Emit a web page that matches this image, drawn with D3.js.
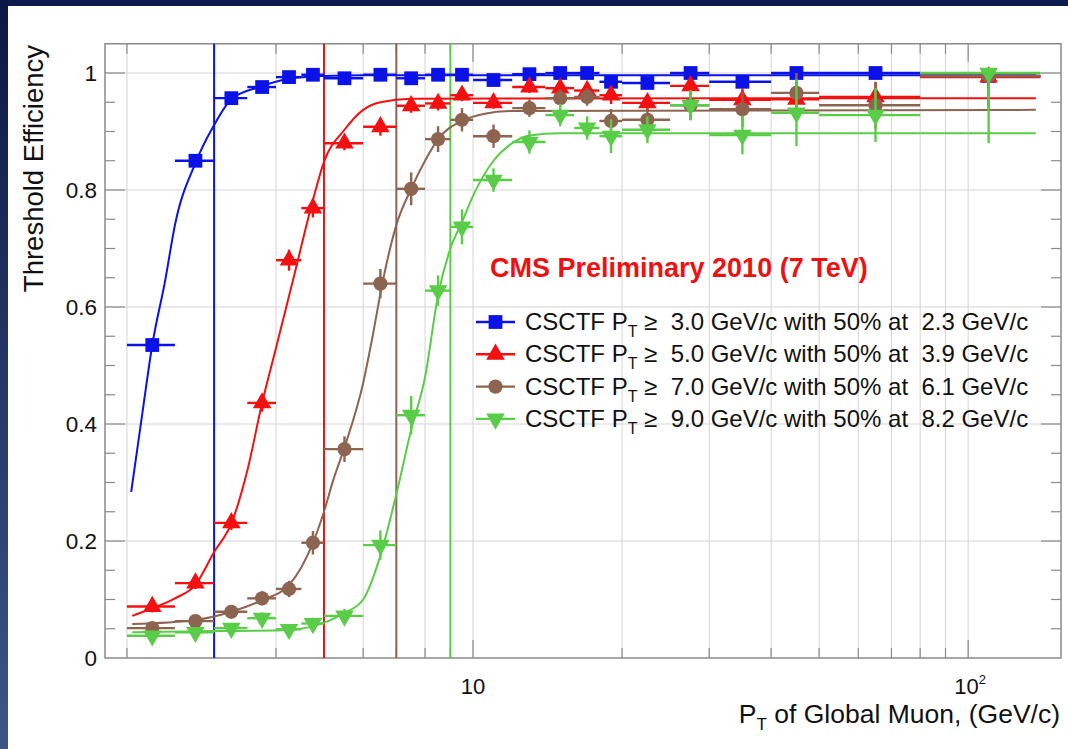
<!DOCTYPE html>
<html>
<head>
<meta charset="utf-8">
<script src="https://cdn.jsdelivr.net/npm/d3@7"></script>
<style>
  html, body { margin: 0; padding: 0; background: #0c1a4c; }
  svg { display: block; font-family: "Liberation Sans", Arial, sans-serif; }
  text { white-space: pre; }
</style>
</head>
<body>
<svg id="chart" width="1068" height="749"></svg>
<script>
// bin edges in pT (GeV/c), shared by all four turn-on curves
const ptEdges = [2, 2.5, 3, 3.5, 4, 4.5, 5, 6, 7, 8, 9, 10, 12, 14, 16, 18, 20, 25, 30, 40, 50, 80, 140]

// efficiency per bin
const effPt3 = [0.535, 0.850, 0.957, 0.976, 0.993, 0.997, 0.991, 0.997, 0.991, 0.997, 0.997, 0.988, 0.998, 1.0, 1.0, 0.985, 0.983, 1.0, 0.985, 1.0, 1.0, 0.995]
const errPt3 = [0.012, 0.01, 0.006, 0.005, 0.004, 0.003, 0.004, 0.003, 0.005, 0.004, 0.004, 0.005, 0.004, 0.004, 0.005, 0.007, 0.007, 0.006, 0.008, 0.01, 0.01, 0.02]
const effPt5 = [0.088, 0.128, 0.231, 0.436, 0.680, 0.769, 0.880, 0.908, 0.944, 0.948, 0.962, 0.949, 0.976, 0.974, 0.970, 0.962, 0.949, 0.978, 0.954, 0.955, 0.959, 0.993]
const errPt5 = [0.01, 0.01, 0.012, 0.015, 0.018, 0.016, 0.012, 0.015, 0.012, 0.012, 0.01, 0.01, 0.01, 0.012, 0.012, 0.015, 0.015, 0.015, 0.02, 0.03, 0.025, 0.05]
const effPt7 = [0.051, 0.063, 0.079, 0.102, 0.118, 0.197, 0.357, 0.640, 0.802, 0.887, 0.920, 0.892, 0.940, 0.957, 0.959, 0.918, 0.920, 0.945, 0.938, 0.966, 0.945, 0.995]
const errPt7 = [0.008, 0.008, 0.01, 0.012, 0.014, 0.02, 0.022, 0.025, 0.028, 0.022, 0.02, 0.02, 0.015, 0.015, 0.015, 0.02, 0.02, 0.025, 0.03, 0.04, 0.04, 0.06]
const effPt9 = [0.038, 0.044, 0.051, 0.068, 0.049, 0.059, 0.072, 0.193, 0.415, 0.628, 0.737, 0.817, 0.882, 0.928, 0.906, 0.892, 0.903, 0.945, 0.894, 0.932, 0.928, 1.0]
const errPt9 = [0.006, 0.006, 0.007, 0.01, 0.008, 0.01, 0.012, 0.025, 0.033, 0.026, 0.03, 0.02, 0.02, 0.019, 0.02, 0.029, 0.023, 0.026, 0.033, 0.057, 0.046, 0.12]

// fitted turn-on curves, sampled from the plot
const fitPt3 = [2.04, 2.15, 2.25, 2.39, 2.5, 2.75, 3.0, 3.25, 3.7, 4.3, 5.0, 6.0, 137]
const fitEff3 = [0.284, 0.42, 0.535, 0.646, 0.74, 0.846, 0.911, 0.955, 0.976, 0.991, 0.995, 0.996, 0.996]
const fitPt5 = [2.05, 2.25, 2.5, 2.75, 3.0, 3.25, 3.5, 3.75, 4.0, 4.33, 4.75, 5.0, 5.5, 6.0, 6.5, 7.5, 137]
const fitEff5 = [0.072, 0.085, 0.102, 0.125, 0.181, 0.23, 0.32, 0.436, 0.53, 0.646, 0.783, 0.848, 0.903, 0.937, 0.95, 0.956, 0.957]
const fitPt7 = [2.05, 2.75, 3.25, 3.75, 4.25, 4.75, 5.0, 5.22, 5.5, 6.0, 6.25, 6.58, 7.0, 7.5, 8.0, 8.5, 9.5, 10.5, 12, 137]
const fitEff7 = [0.058, 0.065, 0.079, 0.099, 0.125, 0.197, 0.25, 0.304, 0.36, 0.47, 0.544, 0.646, 0.74, 0.802, 0.85, 0.887, 0.918, 0.93, 0.935, 0.937]
const fitPt9 = [2.05, 3.0, 4.0, 4.5, 5.0, 5.5, 6.0, 6.5, 7.0, 7.5, 8.0, 8.5, 9.0, 9.5, 10, 11, 12, 13, 15, 137]
const fitEff9 = [0.044, 0.046, 0.047, 0.05, 0.06, 0.077, 0.1, 0.175, 0.28, 0.39, 0.48, 0.62, 0.70, 0.745, 0.79, 0.85, 0.88, 0.893, 0.897, 0.897]

const thresholds = [3, 5, 7, 9]
const legendThreshold = ["3.0", "5.0", "7.0", "9.0"]
const legendHalf = ["2.3", "3.9", "6.1", "8.2"]

const colors = ["#0a12e8", "#f41010", "#8c6450", "#5acd48"]
const symbols = ["square", "triangle", "circle", "triangleDown"]

const series = [
  { eff: effPt3, err: errPt3, fitX: fitPt3, fitY: fitEff3 },
  { eff: effPt5, err: errPt5, fitX: fitPt5, fitY: fitEff5 },
  { eff: effPt7, err: errPt7, fitX: fitPt7, fitY: fitEff7 },
  { eff: effPt9, err: errPt9, fitX: fitPt9, fitY: fitEff9 },
]

const svg = d3.select("#chart")
const W = 1068, H = 749

// slide background
const defs = svg.append("defs")
const grad = defs.append("linearGradient").attr("id", "side").attr("x1", 0).attr("y1", 0).attr("x2", 0).attr("y2", 1)
grad.append("stop").attr("offset", "0%").attr("stop-color", "#0b1744")
grad.append("stop").attr("offset", "100%").attr("stop-color", "#3d5686")
svg.append("rect").attr("width", W).attr("height", H).attr("fill", "#0c1a4c")
svg.append("rect").attr("width", 8).attr("height", H).attr("fill", "url(#side)")
svg.append("rect").attr("x", 8).attr("y", 6).attr("width", W - 8).attr("height", H - 6).attr("fill", "#fff")

const plotL = 105, plotR = 1061, plotT = 43.75, plotB = 658

const x = d3.scaleLog().domain([1.806, 154]).range([plotL, plotR])
const y = d3.scaleLinear().domain([0, 1.05]).range([plotB, plotT])

// grid
const xGrid = [2, 3, 4, 5, 6, 7, 8, 9, 10, 20, 30, 40, 50, 60, 70, 80, 90, 100]
const yGrid = [0.2, 0.4, 0.6, 0.8, 1.0]
const grid = svg.append("g").attr("stroke", "#d4d4d4").attr("stroke-width", 1)
grid.selectAll("line.gx").data(xGrid).join("line").attr("class", "gx")
  .attr("x1", d => x(d)).attr("x2", d => x(d)).attr("y1", plotT).attr("y2", plotB)
grid.selectAll("line.gy").data(yGrid).join("line").attr("class", "gy")
  .attr("x1", plotL).attr("x2", plotR).attr("y1", d => y(d)).attr("y2", d => y(d))

// ticks on all four sides
const ticks = svg.append("g").attr("stroke", "#8a8a8a").attr("stroke-width", 1.2)
const isMajorX = d => d === 10 || d === 100
xGrid.forEach(d => {
  const len = isMajorX(d) ? 18 : 10
  ticks.append("line").attr("x1", x(d)).attr("x2", x(d)).attr("y1", plotB).attr("y2", plotB - len)
  ticks.append("line").attr("x1", x(d)).attr("x2", x(d)).attr("y1", plotT).attr("y2", plotT + len)
})
d3.range(1, 21).map(i => i * 0.05).forEach(d => {
  const len = Math.abs(d * 5 - Math.round(d * 5)) < 1e-6 ? 20 : 10
  ticks.append("line").attr("x1", plotL).attr("x2", plotL + len).attr("y1", y(d)).attr("y2", y(d))
  ticks.append("line").attr("x1", plotR).attr("x2", plotR - len).attr("y1", y(d)).attr("y2", y(d))
})

// frame
svg.append("rect").attr("x", plotL).attr("y", plotT).attr("width", plotR - plotL).attr("height", plotB - plotT)
  .attr("fill", "none").attr("stroke", "#8a8a8a").attr("stroke-width", 1.5)

// tick labels
const yLabels = [0, 0.2, 0.4, 0.6, 0.8, 1]
svg.append("g").selectAll("text").data(yLabels).join("text")
  .attr("x", 97).attr("y", d => y(d) + 8).attr("text-anchor", "end")
  .attr("font-size", 22.5).attr("fill", "#111").text(d => d)

svg.append("text").attr("x", x(10)).attr("y", 694).attr("text-anchor", "middle")
  .attr("font-size", 22).attr("fill", "#111").text("10")
const t100 = svg.append("text").attr("x", x(100) - 14).attr("y", 694).attr("font-size", 22).attr("fill", "#111")
t100.append("tspan").text("10")
t100.append("tspan").attr("dy", -10).attr("font-size", 13).text("2")

// axis titles
svg.append("text").attr("transform", "translate(43,45) rotate(-90)").attr("text-anchor", "end")
  .attr("font-size", 27.5).attr("fill", "#111").text("Threshold Efficiency")
const xt = svg.append("text").attr("x", 1060).attr("y", 723).attr("text-anchor", "end")
  .attr("font-size", 26.5).attr("fill", "#111")
xt.append("tspan").text("P")
xt.append("tspan").attr("dy", 7).attr("font-size", 17).text("T")
xt.append("tspan").attr("dy", -7).text(" of Global Muon, (GeV/c)")

// threshold lines
svg.append("g").selectAll("line").data(thresholds).join("line")
  .attr("x1", d => x(d)).attr("x2", d => x(d)).attr("y1", plotT).attr("y2", plotB)
  .attr("stroke", (d, i) => colors[i]).attr("stroke-width", 2)

function markerPath(kind) {
  if (kind === "square") return d3.symbol(d3.symbolSquare, 190)()
  if (kind === "circle") return d3.symbol(d3.symbolCircle, 160)()
  return d3.symbol(d3.symbolTriangle, 150)()
}

// fits
const line = d3.line().x(d => x(d[0])).y(d => y(d[1])).curve(d3.curveMonotoneX)
series.forEach((s, i) => {
  svg.append("path").attr("d", line(d3.zip(s.fitX, s.fitY)))
    .attr("fill", "none").attr("stroke", colors[i]).attr("stroke-width", 2)
})

// data points with error bars
series.forEach((s, i) => {
  const g = svg.append("g").attr("stroke", colors[i]).attr("fill", colors[i])
  const pts = s.eff.map((e, k) => ({ lo: ptEdges[k], hi: ptEdges[k + 1], c: (ptEdges[k] + ptEdges[k + 1]) / 2, e, err: s.err[k] }))
  g.selectAll("line.h").data(pts).join("line").attr("class", "h")
    .attr("x1", d => x(d.lo)).attr("x2", d => x(d.hi)).attr("y1", d => y(d.e)).attr("y2", d => y(d.e))
    .attr("stroke-width", 2.4)
  g.selectAll("line.v").data(pts).join("line").attr("class", "v")
    .attr("x1", d => x(d.c)).attr("x2", d => x(d.c))
    .attr("y1", d => y(Math.max(0, d.e - d.err))).attr("y2", d => y(Math.min(1, d.e + d.err)))
    .attr("stroke-width", 2.4)
  g.selectAll("path").data(pts).join("path")
    .attr("d", markerPath(symbols[i]))
    .attr("stroke", "none")
    .attr("transform", d => `translate(${x(d.c)},${y(d.e)})` + (symbols[i] === "triangleDown" ? " rotate(180)" : ""))
})

// label and legend
svg.append("text").attr("x", 490).attr("y", 277).attr("font-size", 27).attr("font-weight", "bold")
  .attr("fill", "#ee1111").text("CMS Preliminary 2010 (7 TeV)")

const legend = svg.append("g")
legendThreshold.forEach((thr, i) => {
  const ly = 322 + i * 32.3
  legend.append("line").attr("x1", 476).attr("x2", 515).attr("y1", ly).attr("y2", ly)
    .attr("stroke", colors[i]).attr("stroke-width", 2.4)
  legend.append("path").attr("d", markerPath(symbols[i])).attr("fill", colors[i])
    .attr("transform", `translate(495.5,${ly})` + (symbols[i] === "triangleDown" ? " rotate(180)" : ""))
  const t = legend.append("text").attr("x", 525).attr("y", ly + 8).attr("font-size", 24).attr("fill", "#111")
  t.append("tspan").text("CSCTF P")
  t.append("tspan").attr("dy", 7).attr("font-size", 16).text("T")
  t.append("tspan").attr("dy", -7).text(" ≥  " + thr + " GeV/c with 50% at  " + legendHalf[i] + " GeV/c")
})
</script>
</body>
</html>
